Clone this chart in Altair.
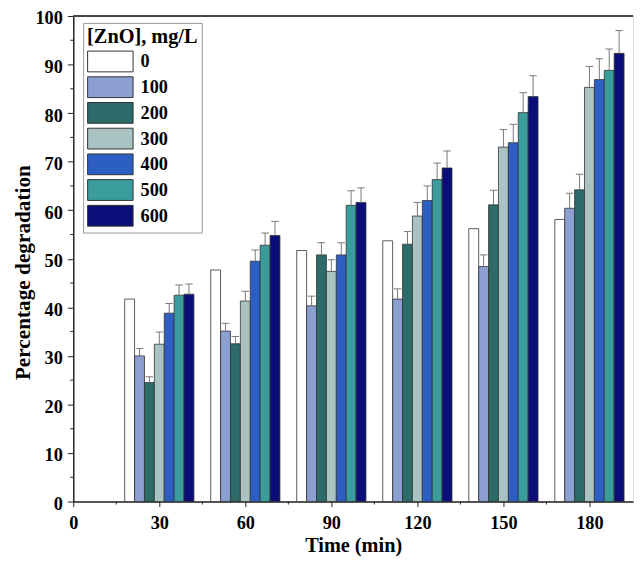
import altair as alt
import pandas as pd

times = [30, 60, 90, 120, 150, 180]
doses = ["0", "100", "200", "300", "400", "500", "600"]
colors = ["#ffffff", "#8b9fd0", "#2c6b69", "#a9c2c2", "#2d5ec4", "#3a9c9c", "#0b0e78"]

values = {
    "0":   [41.7, 47.7, 51.7, 53.7, 56.2, 58.1],
    "100": [30.0, 35.1, 40.3, 41.7, 48.4, 60.4],
    "200": [24.5, 32.5, 50.8, 53.0, 61.1, 64.2],
    "300": [32.4, 41.3, 47.4, 58.8, 73.0, 85.3],
    "400": [38.8, 49.5, 50.8, 62.0, 73.9, 86.9],
    "500": [42.5, 52.8, 61.0, 66.3, 80.1, 88.8],
    "600": [42.7, 54.8, 61.6, 68.7, 83.4, 92.3],
}
errors = {
    "0":   [0, 0, 0, 0, 0, 0],
    "100": [1.5, 1.6, 2.0, 2.1, 2.4, 3.1],
    "200": [1.2, 1.5, 2.5, 2.6, 3.0, 3.2],
    "300": [2.5, 2.0, 2.4, 2.8, 3.6, 4.3],
    "400": [2.0, 2.3, 2.5, 3.0, 3.8, 4.3],
    "500": [2.1, 2.5, 3.0, 3.4, 4.1, 4.4],
    "600": [2.1, 2.9, 3.0, 3.5, 4.3, 4.7],
}

y_ticks = list(range(0, 101, 10))
y_minor = list(range(5, 100, 10))
x_ticks = list(range(0, 181, 30))
x_minor = list(range(15, 181, 30))

rows = []
for i, d in enumerate(doses):
    for j, t in enumerate(times):
        rows.append({"dose": d, "idx": i, "time": t, "val": values[d][j], "err": errors[d][j]})
df = pd.DataFrame(rows)

W, H = 566, 491
XMAX = 195.2
BW = 3.45
FONT = "Liberation Serif"
LFS = 18.5
TFS = 20.5

xscale = alt.Scale(domain=[0, XMAX], nice=False, zero=False)
yscale = alt.Scale(domain=[0, 100], nice=False)

base = alt.Chart(df).transform_calculate(
    x0=f"datum.time + (datum.idx - 3.5) * {BW}",
    x1=f"datum.time + (datum.idx - 2.5) * {BW}",
    xc=f"datum.time + (datum.idx - 3.0) * {BW}",
    cl=f"datum.time + (datum.idx - 3.0) * {BW} - 1.3",
    cr=f"datum.time + (datum.idx - 3.0) * {BW} + 1.3",
    top="datum.val + datum.err",
)

bars = base.mark_bar(stroke="#333333", strokeWidth=0.8).encode(
    x=alt.X("x0:Q", scale=xscale,
            axis=alt.Axis(values=x_ticks, title="Time (min)", labelFont=FONT, labelFontSize=LFS,
                          labelFontWeight="bold", titleFont=FONT, titleFontSize=TFS,
                          titleFontWeight="bold", tickSize=5, tickColor="#222", domainColor="#222",
                          domainWidth=1.5, labelColor="black", titleColor="black", grid=False,
                          labelPadding=7, titlePadding=4, labelFlush=False)),
    x2="x1:Q",
    y=alt.Y("val:Q", scale=yscale,
            axis=alt.Axis(values=y_ticks, title="Percentage degradation", labelFont=FONT,
                          labelFontSize=LFS, labelFontWeight="bold", titleFont=FONT,
                          titleFontSize=21.5, titleFontWeight="bold", tickSize=6, tickColor="#222",
                          domainColor="#222", domainWidth=1.5, labelColor="black",
                          titleColor="black", grid=False, labelPadding=5, labelOffset=2,
                          titleX=-39, titleY=259, labelFlush=False)),
    y2=alt.datum(0),
    color=alt.Color("dose:N", sort=doses, scale=alt.Scale(domain=doses, range=colors),
                    legend=alt.Legend(title="[ZnO], mg/L", orient="none", legendX=10, legendY=7,
                                      symbolType="M-1,-1H3.38V1H-1Z", symbolSize=441,
                                      symbolStrokeColor="#333", symbolStrokeWidth=1,
                                      titleFont=FONT, titleFontSize=TFS, titleFontWeight="bold",
                                      titleColor="black", labelFont=FONT, labelFontSize=LFS,
                                      labelFontWeight="bold", labelColor="black",
                                      strokeColor="#999", fillColor="white", padding=4,
                                      labelOffset=32, rowPadding=0, titlePadding=3.5)),
)

err = base.transform_filter("datum.err > 0")
whisk = err.mark_rule(color="#777777", strokeWidth=1).encode(
    x="xc:Q", y="val:Q", y2="top:Q")
caps = err.mark_rule(color="#777777", strokeWidth=1).encode(
    x="cl:Q", x2="cr:Q", y="top:Q")

ymin = alt.Chart(pd.DataFrame({"v": y_minor})).mark_rule(color="#222").encode(
    y=alt.Y("v:Q", scale=yscale), x=alt.value(-3), x2=alt.value(0))
xmin = alt.Chart(pd.DataFrame({"v": x_minor})).mark_rule(color="#222").encode(
    x=alt.X("v:Q", scale=xscale), y=alt.value(H), y2=alt.value(H + 3))
topline = alt.Chart(pd.DataFrame({"a": [0]})).mark_rule(color="#444", strokeWidth=2).encode(
    x=alt.value(0), x2=alt.value(W), y=alt.value(0))

chart = alt.layer(bars, whisk, caps, ymin, xmin, topline).properties(
    width=W, height=H,
    autosize=alt.AutoSizeParams(type="none"),
    padding={"left": 66, "top": 5, "right": 2, "bottom": 54},
).configure_view(stroke=None).configure(background="white")

chart.save("out.html", embed_options={"renderer": "svg", "actions": False})
